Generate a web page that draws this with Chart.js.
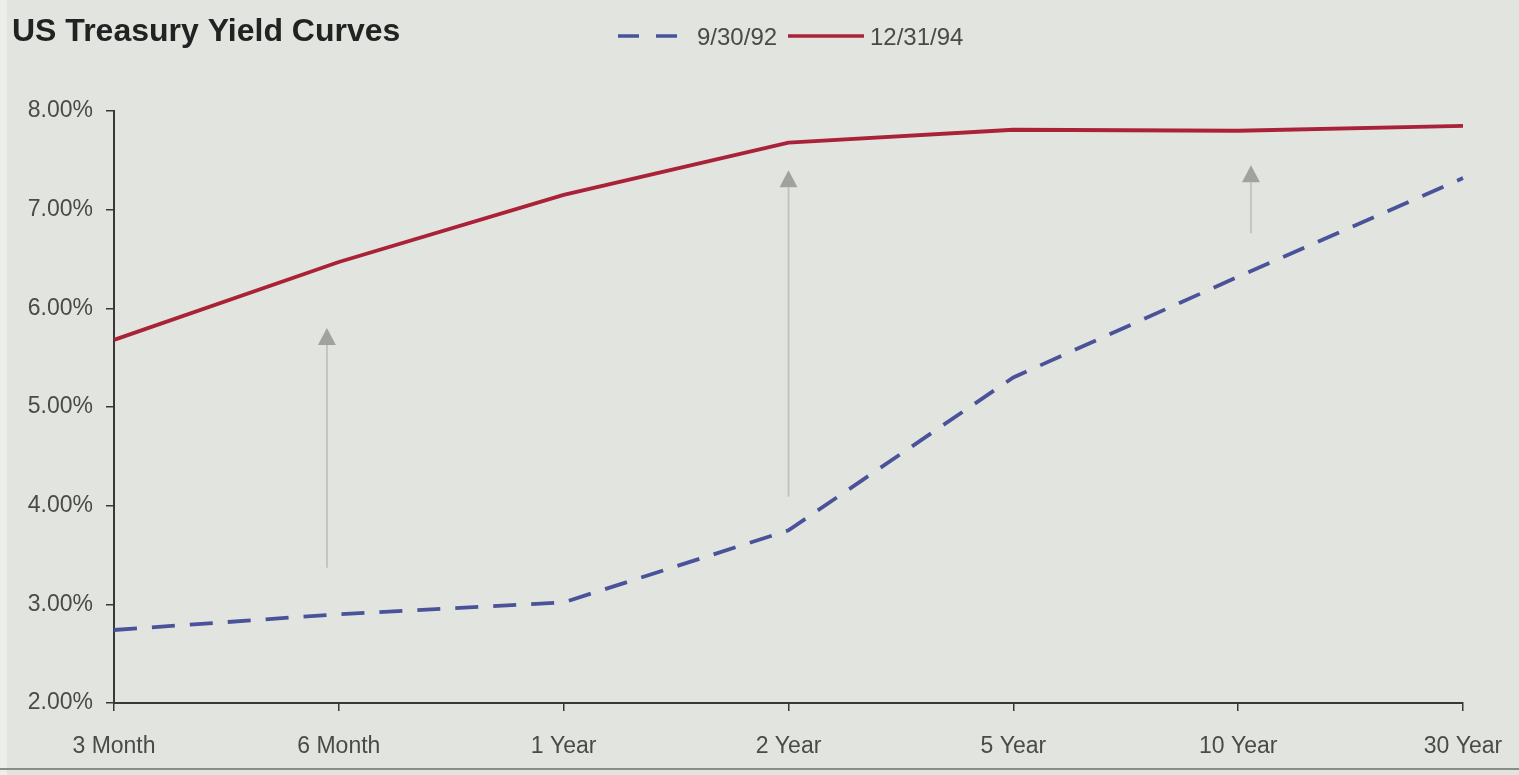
<!DOCTYPE html>
<html>
<head>
<meta charset="utf-8">
<title>US Treasury Yield Curves</title>
<script src="https://cdn.jsdelivr.net/npm/chart.js@4.4.1/dist/chart.umd.min.js"></script>
<style>
  html, body { margin: 0; padding: 0; background: #e2e5df; overflow: hidden; }
  #wrap { position: relative; width: 1519px; height: 775px; }
</style>
</head>
<body>
<div id="wrap"><canvas id="chart" width="1519" height="775"></canvas></div>
<script>
// Maturities along the curve
const maturities = ['3 Month', '6 Month', '1 Year', '2 Year', '5 Year', '10 Year', '30 Year'];

// Yields (%) for each curve date
const yieldsSep92 = [2.74, 2.90, 3.02, 3.75, 5.30, 6.32, 7.32];
const yieldsDec94 = [5.68, 6.47, 7.15, 7.68, 7.81, 7.80, 7.85];

// Series labels
const seriesLabels = ['9/30/92', '12/31/94'];

// Y axis range and step (%)
const yMin = 2, yMax = 8, yStep = 1;

// Upward shift arrows: position on the maturity axis (index) and yield range (%)
const arrowAt   = [0.947, 3.0, 5.057];
const arrowFrom = [3.37, 4.09, 6.76];
const arrowTo   = [5.80, 7.40, 7.45];

const chartTitle = 'US Treasury Yield Curves';

const BG = '#e2e5df';
const BLUE = '#4a529a';
const RED = '#a92238';
const AXIS = '#383838';
const TEXT = '#4a4a48';
const FONT = '"Liberation Sans", Arial, Helvetica, sans-serif';

// Page background, edge strip and bottom rule
const backdrop = {
  id: 'backdrop',
  beforeDraw(chart) {
    const { ctx, width, height } = chart;
    ctx.save();
    ctx.fillStyle = BG;
    ctx.fillRect(0, 0, width, height);
    ctx.fillStyle = '#eceee9';
    ctx.fillRect(0, 0, 7, height);
    ctx.fillStyle = '#8a8c87';
    ctx.fillRect(0, 768, width, 2);
    ctx.restore();
  }
};

// Gray arrows showing the shift of the curve
const shiftArrows = {
  id: 'shiftArrows',
  beforeDatasetsDraw(chart) {
    const { ctx, scales: { x, y } } = chart;
    ctx.save();
    arrowAt.forEach((pos, i) => {
      const px = x.getPixelForValue(pos);
      const y0 = y.getPixelForValue(arrowFrom[i]);
      const y1 = y.getPixelForValue(arrowTo[i]);
      const headH = 17, headW = 9;
      ctx.strokeStyle = '#bfc3be';
      ctx.lineWidth = 1.8;
      ctx.beginPath();
      ctx.moveTo(px, y0);
      ctx.lineTo(px, y1 + headH);
      ctx.stroke();
      ctx.fillStyle = '#9fa39e';
      ctx.beginPath();
      ctx.moveTo(px, y1);
      ctx.lineTo(px - headW, y1 + headH);
      ctx.lineTo(px + headW, y1 + headH);
      ctx.closePath();
      ctx.fill();
    });
    ctx.restore();
  }
};

// Title at top-left and line-sample legend at top-center
const header = {
  id: 'header',
  afterDraw(chart) {
    const { ctx } = chart;
    ctx.save();
    ctx.textBaseline = 'alphabetic';
    ctx.textAlign = 'left';
    ctx.fillStyle = '#222222';
    ctx.font = 'bold 32px ' + FONT;
    ctx.fillText(chartTitle, 12, 41);

    const ly = 36;
    ctx.lineWidth = 3.5;
    ctx.strokeStyle = BLUE;
    ctx.setLineDash([21, 17]);
    ctx.beginPath();
    ctx.moveTo(618, ly);
    ctx.lineTo(679, ly);
    ctx.stroke();
    ctx.setLineDash([]);
    ctx.font = '24px ' + FONT;
    ctx.fillStyle = TEXT;
    ctx.fillText(seriesLabels[0], 697, 45);

    ctx.strokeStyle = RED;
    ctx.beginPath();
    ctx.moveTo(788, ly);
    ctx.lineTo(864, ly);
    ctx.stroke();
    ctx.fillText(seriesLabels[1], 870, 45);
    ctx.restore();
  }
};

new Chart(document.getElementById('chart'), {
  type: 'line',
  data: {
    labels: maturities,
    datasets: [
      {
        label: seriesLabels[0],
        data: yieldsSep92,
        borderColor: BLUE,
        borderWidth: 3.8,
        borderDash: [23, 15],
        pointRadius: 0,
        tension: 0,
        fill: false
      },
      {
        label: seriesLabels[1],
        data: yieldsDec94,
        borderColor: RED,
        borderWidth: 3.8,
        pointRadius: 0,
        tension: 0,
        fill: false
      }
    ]
  },
  options: {
    responsive: false,
    animation: false,
    layout: { padding: { left: 0, right: 56, top: 111, bottom: 0 } },
    plugins: {
      legend: { display: false },
      title: { display: false },
      tooltip: { enabled: false }
    },
    scales: {
      x: {
        offset: false,
        grid: {
          display: true,
          drawOnChartArea: false,
          drawTicks: true,
          tickLength: 8,
          color: AXIS,
          lineWidth: 1.5
        },
        border: { display: true, color: AXIS, width: 2 },
        ticks: {
          color: TEXT,
          font: { family: FONT, size: 23 },
          padding: 22,
          maxRotation: 0,
          autoSkip: false
        },
        afterFit(scale) {
          scale.height = 72;
          scale.paddingLeft = 0;
          scale.paddingRight = 0;
        }
      },
      y: {
        min: yMin,
        max: yMax,
        grid: {
          display: true,
          drawOnChartArea: false,
          drawTicks: true,
          tickLength: 8,
          color: AXIS,
          lineWidth: 1.5
        },
        border: { display: true, color: AXIS, width: 2 },
        ticks: {
          stepSize: yStep,
          color: TEXT,
          font: { family: FONT, size: 23 },
          padding: 13,
          callback: v => v.toFixed(2) + '%'
        },
        afterFit(scale) { scale.width = 114; }
      }
    }
  },
  plugins: [backdrop, shiftArrows, header]
});
</script>
</body>
</html>
